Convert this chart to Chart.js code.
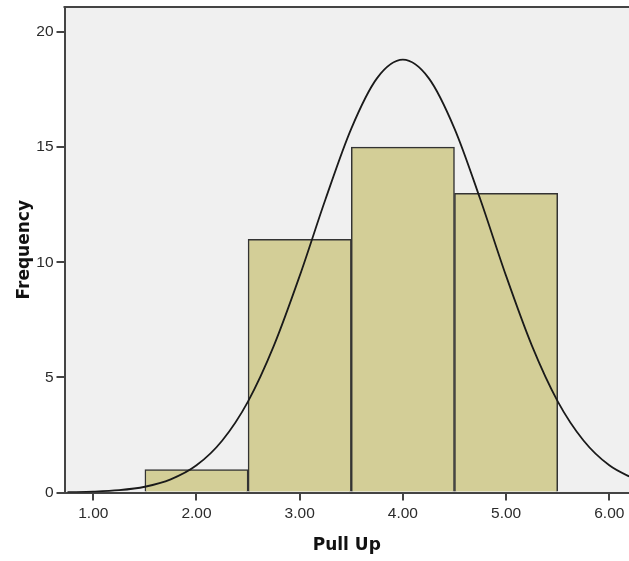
<!DOCTYPE html>
<html>
<head>
<meta charset="utf-8">
<script src="https://cdn.jsdelivr.net/npm/chart.js@4"></script>
<style>
  html, body { margin: 0; padding: 0; background: #ffffff; }
  canvas { display: block; }
</style>
</head>
<body>
<canvas id="c" width="629" height="561"></canvas>
<script>
// Histogram bins (bin centres) and frequencies
const binCenters = [2, 3, 4, 5];
const frequencies = [1, 11, 15, 13];
// Normal curve
const curveX = [0.75, 1.0, 1.25, 1.5, 1.75, 2.0, 2.25, 2.5, 2.75, 3.0, 3.25, 3.5, 3.75, 4.0, 4.25, 4.5, 4.75, 5.0, 5.25, 5.5, 5.75, 6.0, 6.25];
const curveY = [0.013, 0.037, 0.10, 0.25, 0.57, 1.18, 2.26, 3.96, 6.38, 9.41, 12.74, 15.81, 18.00, 18.8, 18.00, 15.81, 12.74, 9.41, 6.38, 3.96, 2.26, 1.18, 0.57];
// Tick labels
const xTickValues = [1, 2, 3, 4, 5, 6];
const yTickValues = [0, 5, 10, 15, 20];
const xTitle = 'Pull Up';
const yTitle = 'Frequency';

const bgPlugin = {
  id: 'bgPlugin',
  beforeDraw(chart) {
    const { ctx, chartArea: a } = chart;
    ctx.save();
    ctx.fillStyle = '#f0f0f0';
    ctx.fillRect(a.left, a.top, a.right - a.left, a.bottom - a.top);
    ctx.restore();
  },
  afterDraw(chart) {
    const { ctx, chartArea: a } = chart;
    ctx.save();
    ctx.strokeStyle = '#444444';
    ctx.lineWidth = 2;
    ctx.beginPath();
    ctx.moveTo(a.left - 1, a.top);
    ctx.lineTo(a.right, a.top);
    ctx.stroke();
    ctx.restore();
  }
};

new Chart(document.getElementById('c'), {
  type: 'bar',
  data: {
    datasets: [
      {
        type: 'line',
        data: curveX.map((x, i) => ({ x, y: curveY[i] })),
        borderColor: '#1a1a1a',
        borderWidth: 1.8,
        pointRadius: 0,
        cubicInterpolationMode: 'monotone',
        fill: false,
        order: 0
      },
      {
        type: 'bar',
        data: binCenters.map((x, i) => ({ x, y: frequencies[i] })),
        backgroundColor: '#d3ce97',
        borderColor: '#333333',
        borderWidth: 1.5,
        barPercentage: 1,
        categoryPercentage: 1,
        grouped: false,
        order: 1
      }
    ]
  },
  options: {
    responsive: false,
    devicePixelRatio: 1,
    animation: false,
    layout: { padding: { top: 7, right: 0, left: 0, bottom: 0 } },
    plugins: { legend: { display: false }, tooltip: { enabled: false } },
    scales: {
      x: {
        type: 'linear',
        offset: false,
        min: 0.721,
        max: 6.191,
        afterBuildTicks: s => { s.ticks = xTickValues.map(v => ({ value: v })); },
        afterFit: s => { s.height = 68.5; s.paddingLeft = 0; s.paddingRight = 0; },
        ticks: {
          callback: v => Number(v).toFixed(2),
          color: '#2b2b2b',
          font: { family: 'Liberation Sans, Arial, sans-serif', size: 15.5 },
          padding: 4,
          maxRotation: 0,
          autoSkip: false
        },
        grid: { offset: false, drawOnChartArea: false, drawTicks: true, tickLength: 8, color: '#444444', lineWidth: 2 },
        border: { display: true, color: '#444444', width: 2 },
        title: {
          display: true,
          text: xTitle,
          color: '#111111',
          font: { family: 'DejaVu Sans, sans-serif', size: 17, weight: 'bold' },
          padding: { top: 0, bottom: 5 }
        }
      },
      y: {
        type: 'linear',
        min: 0,
        max: 21.09,
        afterBuildTicks: s => { s.ticks = yTickValues.map(v => ({ value: v })); },
        afterFit: s => { s.width = 64.5; s.paddingTop = 0; s.paddingBottom = 0; },
        ticks: {
          color: '#2b2b2b',
          font: { family: 'Liberation Sans, Arial, sans-serif', size: 15.5 },
          padding: 3,
          autoSkip: false
        },
        grid: { drawOnChartArea: false, drawTicks: true, tickLength: 8, color: '#444444', lineWidth: 2 },
        border: { display: true, color: '#444444', width: 2 },
        title: {
          display: true,
          text: yTitle,
          color: '#111111',
          font: { family: 'DejaVu Sans, sans-serif', size: 17, weight: 'bold' },
          padding: { top: 14, bottom: 0 }
        }
      }
    }
  },
  plugins: [bgPlugin]
});
</script>
</body>
</html>
